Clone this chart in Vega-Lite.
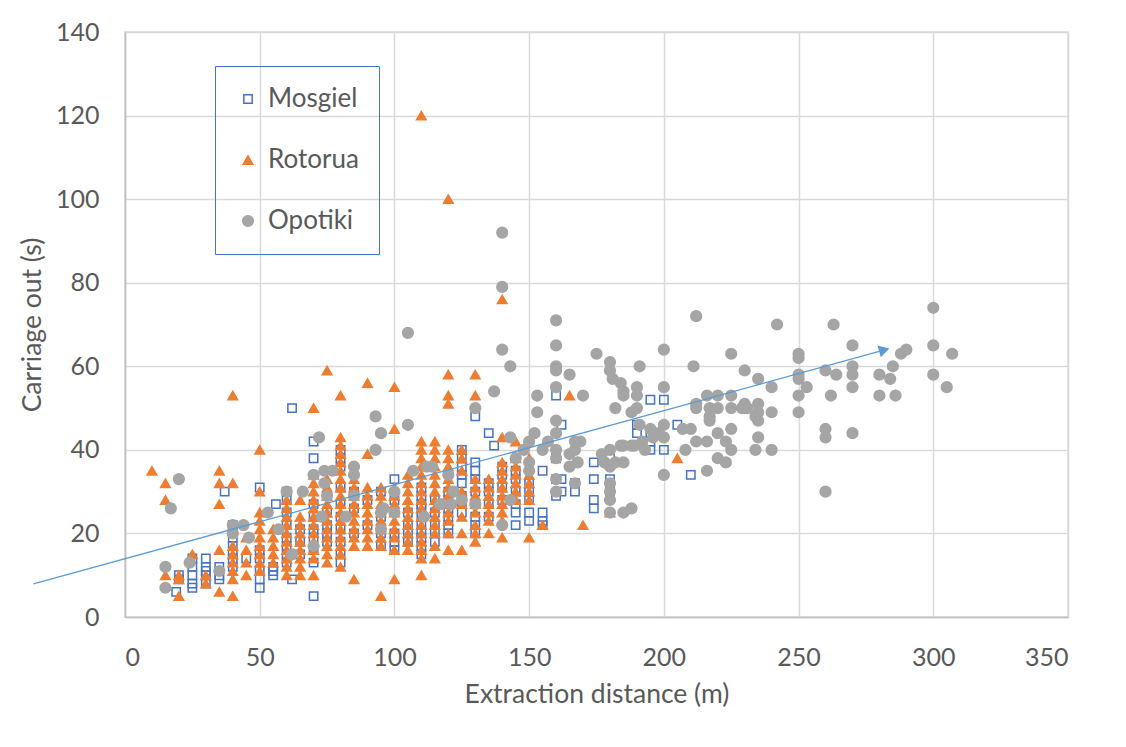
{
"$schema":"https://vega.github.io/schema/vega-lite/v6.json",
"width":943,"height":585,
"autosize":{"type":"none"},
"padding":{"left":125,"top":32,"right":58,"bottom":130},
"background":"white",
"config":{"font":"Lato","view":{"stroke":"#D9D9D9","strokeWidth":1.5},
"axis":{"labelFontSize":25,"labelColor":"#595959","titleFontSize":26.5,"titleColor":"#595959","titleFontWeight":"normal","gridColor":"#D9D9D9","gridWidth":1.5,"domainColor":"#BFBFBF","domainWidth":1.5,"ticks":false,"labelFont":"Lato","titleFont":"Lato"}},
"layer":[
{"data":{"values":[
{"site":"Mosgiel","dist":19,"time":6},{"site":"Mosgiel","dist":20,"time":10},{"site":"Mosgiel","dist":20,"time":9},
{"site":"Mosgiel","dist":25,"time":14},{"site":"Mosgiel","dist":25,"time":12},{"site":"Mosgiel","dist":25,"time":10},{"site":"Mosgiel","dist":25,"time":8},{"site":"Mosgiel","dist":25,"time":7},
{"site":"Mosgiel","dist":30,"time":14},{"site":"Mosgiel","dist":30,"time":12},{"site":"Mosgiel","dist":30,"time":11},{"site":"Mosgiel","dist":30,"time":10},{"site":"Mosgiel","dist":30,"time":8},
{"site":"Mosgiel","dist":35,"time":12},{"site":"Mosgiel","dist":35,"time":10},{"site":"Mosgiel","dist":35,"time":9},
{"site":"Mosgiel","dist":37,"time":30},
{"site":"Mosgiel","dist":40,"time":22},{"site":"Mosgiel","dist":40,"time":21},{"site":"Mosgiel","dist":40,"time":19},{"site":"Mosgiel","dist":40,"time":17},{"site":"Mosgiel","dist":40,"time":15},{"site":"Mosgiel","dist":40,"time":14},{"site":"Mosgiel","dist":40,"time":12},
{"site":"Mosgiel","dist":45,"time":14},
{"site":"Mosgiel","dist":50,"time":31},{"site":"Mosgiel","dist":50,"time":16},{"site":"Mosgiel","dist":50,"time":14},{"site":"Mosgiel","dist":50,"time":11},{"site":"Mosgiel","dist":50,"time":9},{"site":"Mosgiel","dist":50,"time":7},
{"site":"Mosgiel","dist":55,"time":12},{"site":"Mosgiel","dist":55,"time":11},{"site":"Mosgiel","dist":55,"time":10},
{"site":"Mosgiel","dist":56,"time":27},
{"site":"Mosgiel","dist":60,"time":30},{"site":"Mosgiel","dist":60,"time":28},{"site":"Mosgiel","dist":60,"time":25},{"site":"Mosgiel","dist":60,"time":22},{"site":"Mosgiel","dist":60,"time":19},{"site":"Mosgiel","dist":60,"time":17},{"site":"Mosgiel","dist":60,"time":15},{"site":"Mosgiel","dist":60,"time":13},
{"site":"Mosgiel","dist":62,"time":50},{"site":"Mosgiel","dist":62,"time":9},
{"site":"Mosgiel","dist":65,"time":21},{"site":"Mosgiel","dist":65,"time":18},{"site":"Mosgiel","dist":65,"time":15},
{"site":"Mosgiel","dist":70,"time":42},{"site":"Mosgiel","dist":70,"time":38},{"site":"Mosgiel","dist":70,"time":27},{"site":"Mosgiel","dist":70,"time":24},{"site":"Mosgiel","dist":70,"time":21},{"site":"Mosgiel","dist":70,"time":19},{"site":"Mosgiel","dist":70,"time":16},{"site":"Mosgiel","dist":70,"time":13},{"site":"Mosgiel","dist":70,"time":5},
{"site":"Mosgiel","dist":75,"time":29},{"site":"Mosgiel","dist":75,"time":25},{"site":"Mosgiel","dist":75,"time":22},{"site":"Mosgiel","dist":75,"time":20},{"site":"Mosgiel","dist":75,"time":18},
{"site":"Mosgiel","dist":80,"time":40},{"site":"Mosgiel","dist":80,"time":38},{"site":"Mosgiel","dist":80,"time":36},{"site":"Mosgiel","dist":80,"time":31},{"site":"Mosgiel","dist":80,"time":27},{"site":"Mosgiel","dist":80,"time":24},{"site":"Mosgiel","dist":80,"time":21},{"site":"Mosgiel","dist":80,"time":18},{"site":"Mosgiel","dist":80,"time":15},{"site":"Mosgiel","dist":80,"time":13},
{"site":"Mosgiel","dist":85,"time":30},{"site":"Mosgiel","dist":85,"time":26},{"site":"Mosgiel","dist":85,"time":20},
{"site":"Mosgiel","dist":90,"time":28},{"site":"Mosgiel","dist":90,"time":22},
{"site":"Mosgiel","dist":95,"time":30},{"site":"Mosgiel","dist":95,"time":24},{"site":"Mosgiel","dist":95,"time":20},{"site":"Mosgiel","dist":95,"time":17},
{"site":"Mosgiel","dist":100,"time":33},{"site":"Mosgiel","dist":100,"time":28},{"site":"Mosgiel","dist":100,"time":20},{"site":"Mosgiel","dist":100,"time":18},{"site":"Mosgiel","dist":100,"time":16},
{"site":"Mosgiel","dist":105,"time":25},{"site":"Mosgiel","dist":105,"time":22},{"site":"Mosgiel","dist":105,"time":20},{"site":"Mosgiel","dist":105,"time":18},
{"site":"Mosgiel","dist":110,"time":31},{"site":"Mosgiel","dist":110,"time":29},{"site":"Mosgiel","dist":110,"time":27},{"site":"Mosgiel","dist":110,"time":26},{"site":"Mosgiel","dist":110,"time":24},{"site":"Mosgiel","dist":110,"time":22},{"site":"Mosgiel","dist":110,"time":20},{"site":"Mosgiel","dist":110,"time":19},{"site":"Mosgiel","dist":110,"time":17},{"site":"Mosgiel","dist":110,"time":15},
{"site":"Mosgiel","dist":115,"time":28},{"site":"Mosgiel","dist":115,"time":25},{"site":"Mosgiel","dist":115,"time":22},{"site":"Mosgiel","dist":115,"time":20},{"site":"Mosgiel","dist":115,"time":18},
{"site":"Mosgiel","dist":120,"time":30},{"site":"Mosgiel","dist":120,"time":28},{"site":"Mosgiel","dist":120,"time":26},{"site":"Mosgiel","dist":120,"time":24},{"site":"Mosgiel","dist":120,"time":22},{"site":"Mosgiel","dist":120,"time":20},
{"site":"Mosgiel","dist":125,"time":40},{"site":"Mosgiel","dist":125,"time":38},{"site":"Mosgiel","dist":125,"time":36},{"site":"Mosgiel","dist":125,"time":34},{"site":"Mosgiel","dist":125,"time":32},{"site":"Mosgiel","dist":125,"time":29},{"site":"Mosgiel","dist":125,"time":27},{"site":"Mosgiel","dist":125,"time":25},
{"site":"Mosgiel","dist":130,"time":48},{"site":"Mosgiel","dist":130,"time":37},{"site":"Mosgiel","dist":130,"time":35},{"site":"Mosgiel","dist":130,"time":33},{"site":"Mosgiel","dist":130,"time":30},{"site":"Mosgiel","dist":130,"time":27},{"site":"Mosgiel","dist":130,"time":24},{"site":"Mosgiel","dist":130,"time":22},{"site":"Mosgiel","dist":130,"time":20},
{"site":"Mosgiel","dist":135,"time":44},{"site":"Mosgiel","dist":135,"time":32},{"site":"Mosgiel","dist":135,"time":30},{"site":"Mosgiel","dist":135,"time":27},{"site":"Mosgiel","dist":135,"time":24},
{"site":"Mosgiel","dist":137,"time":41},
{"site":"Mosgiel","dist":140,"time":36},{"site":"Mosgiel","dist":140,"time":34},{"site":"Mosgiel","dist":140,"time":31},{"site":"Mosgiel","dist":140,"time":28},
{"site":"Mosgiel","dist":145,"time":35},{"site":"Mosgiel","dist":145,"time":33},{"site":"Mosgiel","dist":145,"time":30},{"site":"Mosgiel","dist":145,"time":27},{"site":"Mosgiel","dist":145,"time":25},{"site":"Mosgiel","dist":145,"time":22},
{"site":"Mosgiel","dist":150,"time":32},{"site":"Mosgiel","dist":150,"time":30},{"site":"Mosgiel","dist":150,"time":28},{"site":"Mosgiel","dist":150,"time":25},{"site":"Mosgiel","dist":150,"time":23},
{"site":"Mosgiel","dist":155,"time":35},{"site":"Mosgiel","dist":155,"time":25},{"site":"Mosgiel","dist":155,"time":23},{"site":"Mosgiel","dist":155,"time":22},
{"site":"Mosgiel","dist":160,"time":53},{"site":"Mosgiel","dist":160,"time":38},{"site":"Mosgiel","dist":160,"time":33},{"site":"Mosgiel","dist":160,"time":29},
{"site":"Mosgiel","dist":162,"time":46},{"site":"Mosgiel","dist":162,"time":33},{"site":"Mosgiel","dist":162,"time":30},
{"site":"Mosgiel","dist":167,"time":32},{"site":"Mosgiel","dist":167,"time":30},
{"site":"Mosgiel","dist":174,"time":37},{"site":"Mosgiel","dist":174,"time":33},{"site":"Mosgiel","dist":174,"time":28},{"site":"Mosgiel","dist":174,"time":26},
{"site":"Mosgiel","dist":180,"time":38},{"site":"Mosgiel","dist":180,"time":33},{"site":"Mosgiel","dist":180,"time":30},
{"site":"Mosgiel","dist":190,"time":46},{"site":"Mosgiel","dist":190,"time":44},
{"site":"Mosgiel","dist":195,"time":52},{"site":"Mosgiel","dist":195,"time":44},{"site":"Mosgiel","dist":195,"time":42},{"site":"Mosgiel","dist":195,"time":40},
{"site":"Mosgiel","dist":200,"time":52},{"site":"Mosgiel","dist":200,"time":40},
{"site":"Mosgiel","dist":205,"time":46},{"site":"Mosgiel","dist":210,"time":34},
{"site":"Rotorua","dist":10,"time":35},
{"site":"Rotorua","dist":15,"time":32},{"site":"Rotorua","dist":15,"time":28},{"site":"Rotorua","dist":15,"time":10},
{"site":"Rotorua","dist":20,"time":10},{"site":"Rotorua","dist":20,"time":9},{"site":"Rotorua","dist":20,"time":5},
{"site":"Rotorua","dist":25,"time":15},
{"site":"Rotorua","dist":30,"time":10},{"site":"Rotorua","dist":30,"time":8},
{"site":"Rotorua","dist":35,"time":35},{"site":"Rotorua","dist":35,"time":32},{"site":"Rotorua","dist":35,"time":27},{"site":"Rotorua","dist":35,"time":16},{"site":"Rotorua","dist":35,"time":6},
{"site":"Rotorua","dist":40,"time":53},{"site":"Rotorua","dist":40,"time":32},{"site":"Rotorua","dist":40,"time":17},{"site":"Rotorua","dist":40,"time":15},{"site":"Rotorua","dist":40,"time":13},{"site":"Rotorua","dist":40,"time":11},{"site":"Rotorua","dist":40,"time":9},{"site":"Rotorua","dist":40,"time":5},
{"site":"Rotorua","dist":45,"time":19},{"site":"Rotorua","dist":45,"time":16},{"site":"Rotorua","dist":45,"time":13},{"site":"Rotorua","dist":45,"time":10},
{"site":"Rotorua","dist":50,"time":40},{"site":"Rotorua","dist":50,"time":30},{"site":"Rotorua","dist":50,"time":25},{"site":"Rotorua","dist":50,"time":23},{"site":"Rotorua","dist":50,"time":21},{"site":"Rotorua","dist":50,"time":19},{"site":"Rotorua","dist":50,"time":17},{"site":"Rotorua","dist":50,"time":15},{"site":"Rotorua","dist":50,"time":13},{"site":"Rotorua","dist":50,"time":11},
{"site":"Rotorua","dist":55,"time":21},{"site":"Rotorua","dist":55,"time":19},{"site":"Rotorua","dist":55,"time":17},{"site":"Rotorua","dist":55,"time":15},{"site":"Rotorua","dist":55,"time":13},
{"site":"Rotorua","dist":60,"time":28},{"site":"Rotorua","dist":60,"time":26},{"site":"Rotorua","dist":60,"time":24},{"site":"Rotorua","dist":60,"time":22},{"site":"Rotorua","dist":60,"time":20},{"site":"Rotorua","dist":60,"time":18},{"site":"Rotorua","dist":60,"time":16},{"site":"Rotorua","dist":60,"time":14},{"site":"Rotorua","dist":60,"time":12},{"site":"Rotorua","dist":60,"time":10},
{"site":"Rotorua","dist":65,"time":28},{"site":"Rotorua","dist":65,"time":24},{"site":"Rotorua","dist":65,"time":22},{"site":"Rotorua","dist":65,"time":20},{"site":"Rotorua","dist":65,"time":18},{"site":"Rotorua","dist":65,"time":16},{"site":"Rotorua","dist":65,"time":14},{"site":"Rotorua","dist":65,"time":12},{"site":"Rotorua","dist":65,"time":10},
{"site":"Rotorua","dist":70,"time":50},{"site":"Rotorua","dist":70,"time":34},{"site":"Rotorua","dist":70,"time":32},{"site":"Rotorua","dist":70,"time":30},{"site":"Rotorua","dist":70,"time":28},{"site":"Rotorua","dist":70,"time":26},{"site":"Rotorua","dist":70,"time":24},{"site":"Rotorua","dist":70,"time":22},{"site":"Rotorua","dist":70,"time":20},{"site":"Rotorua","dist":70,"time":18},{"site":"Rotorua","dist":70,"time":16},{"site":"Rotorua","dist":70,"time":14},{"site":"Rotorua","dist":70,"time":10},
{"site":"Rotorua","dist":75,"time":59},{"site":"Rotorua","dist":75,"time":33},{"site":"Rotorua","dist":75,"time":31},{"site":"Rotorua","dist":75,"time":29},{"site":"Rotorua","dist":75,"time":27},{"site":"Rotorua","dist":75,"time":25},{"site":"Rotorua","dist":75,"time":23},{"site":"Rotorua","dist":75,"time":21},{"site":"Rotorua","dist":75,"time":19},{"site":"Rotorua","dist":75,"time":17},{"site":"Rotorua","dist":75,"time":15},{"site":"Rotorua","dist":75,"time":13},
{"site":"Rotorua","dist":80,"time":53},{"site":"Rotorua","dist":80,"time":43},{"site":"Rotorua","dist":80,"time":41},{"site":"Rotorua","dist":80,"time":39},{"site":"Rotorua","dist":80,"time":37},{"site":"Rotorua","dist":80,"time":35},{"site":"Rotorua","dist":80,"time":33},{"site":"Rotorua","dist":80,"time":31},{"site":"Rotorua","dist":80,"time":29},{"site":"Rotorua","dist":80,"time":27},{"site":"Rotorua","dist":80,"time":25},{"site":"Rotorua","dist":80,"time":23},{"site":"Rotorua","dist":80,"time":21},{"site":"Rotorua","dist":80,"time":19},{"site":"Rotorua","dist":80,"time":17},{"site":"Rotorua","dist":80,"time":15},{"site":"Rotorua","dist":80,"time":12},
{"site":"Rotorua","dist":85,"time":33},{"site":"Rotorua","dist":85,"time":31},{"site":"Rotorua","dist":85,"time":29},{"site":"Rotorua","dist":85,"time":27},{"site":"Rotorua","dist":85,"time":25},{"site":"Rotorua","dist":85,"time":23},{"site":"Rotorua","dist":85,"time":21},{"site":"Rotorua","dist":85,"time":19},{"site":"Rotorua","dist":85,"time":17},{"site":"Rotorua","dist":85,"time":9},
{"site":"Rotorua","dist":90,"time":56},{"site":"Rotorua","dist":90,"time":39},{"site":"Rotorua","dist":90,"time":31},{"site":"Rotorua","dist":90,"time":29},{"site":"Rotorua","dist":90,"time":27},{"site":"Rotorua","dist":90,"time":25},{"site":"Rotorua","dist":90,"time":23},{"site":"Rotorua","dist":90,"time":21},{"site":"Rotorua","dist":90,"time":19},{"site":"Rotorua","dist":90,"time":17},
{"site":"Rotorua","dist":95,"time":31},{"site":"Rotorua","dist":95,"time":29},{"site":"Rotorua","dist":95,"time":27},{"site":"Rotorua","dist":95,"time":25},{"site":"Rotorua","dist":95,"time":23},{"site":"Rotorua","dist":95,"time":21},{"site":"Rotorua","dist":95,"time":19},{"site":"Rotorua","dist":95,"time":17},{"site":"Rotorua","dist":95,"time":5},
{"site":"Rotorua","dist":100,"time":55},{"site":"Rotorua","dist":100,"time":45},{"site":"Rotorua","dist":100,"time":31},{"site":"Rotorua","dist":100,"time":29},{"site":"Rotorua","dist":100,"time":27},{"site":"Rotorua","dist":100,"time":25},{"site":"Rotorua","dist":100,"time":23},{"site":"Rotorua","dist":100,"time":21},{"site":"Rotorua","dist":100,"time":19},{"site":"Rotorua","dist":100,"time":16},{"site":"Rotorua","dist":100,"time":9},
{"site":"Rotorua","dist":105,"time":34},{"site":"Rotorua","dist":105,"time":32},{"site":"Rotorua","dist":105,"time":30},{"site":"Rotorua","dist":105,"time":28},{"site":"Rotorua","dist":105,"time":26},{"site":"Rotorua","dist":105,"time":24},{"site":"Rotorua","dist":105,"time":22},{"site":"Rotorua","dist":105,"time":20},{"site":"Rotorua","dist":105,"time":18},{"site":"Rotorua","dist":105,"time":16},
{"site":"Rotorua","dist":110,"time":120},{"site":"Rotorua","dist":110,"time":42},{"site":"Rotorua","dist":110,"time":40},{"site":"Rotorua","dist":110,"time":38},{"site":"Rotorua","dist":110,"time":36},{"site":"Rotorua","dist":110,"time":34},{"site":"Rotorua","dist":110,"time":32},{"site":"Rotorua","dist":110,"time":30},{"site":"Rotorua","dist":110,"time":28},{"site":"Rotorua","dist":110,"time":26},{"site":"Rotorua","dist":110,"time":24},{"site":"Rotorua","dist":110,"time":22},{"site":"Rotorua","dist":110,"time":20},{"site":"Rotorua","dist":110,"time":18},{"site":"Rotorua","dist":110,"time":16},{"site":"Rotorua","dist":110,"time":14},{"site":"Rotorua","dist":110,"time":10},
{"site":"Rotorua","dist":115,"time":42},{"site":"Rotorua","dist":115,"time":40},{"site":"Rotorua","dist":115,"time":38},{"site":"Rotorua","dist":115,"time":36},{"site":"Rotorua","dist":115,"time":34},{"site":"Rotorua","dist":115,"time":32},{"site":"Rotorua","dist":115,"time":30},{"site":"Rotorua","dist":115,"time":28},{"site":"Rotorua","dist":115,"time":26},{"site":"Rotorua","dist":115,"time":24},{"site":"Rotorua","dist":115,"time":22},{"site":"Rotorua","dist":115,"time":20},{"site":"Rotorua","dist":115,"time":17},{"site":"Rotorua","dist":115,"time":14},
{"site":"Rotorua","dist":120,"time":100},{"site":"Rotorua","dist":120,"time":58},{"site":"Rotorua","dist":120,"time":53},{"site":"Rotorua","dist":120,"time":51},{"site":"Rotorua","dist":120,"time":40},{"site":"Rotorua","dist":120,"time":38},{"site":"Rotorua","dist":120,"time":36},{"site":"Rotorua","dist":120,"time":33},{"site":"Rotorua","dist":120,"time":31},{"site":"Rotorua","dist":120,"time":29},{"site":"Rotorua","dist":120,"time":27},{"site":"Rotorua","dist":120,"time":25},{"site":"Rotorua","dist":120,"time":23},{"site":"Rotorua","dist":120,"time":20},{"site":"Rotorua","dist":120,"time":16},
{"site":"Rotorua","dist":125,"time":40},{"site":"Rotorua","dist":125,"time":38},{"site":"Rotorua","dist":125,"time":35},{"site":"Rotorua","dist":125,"time":30},{"site":"Rotorua","dist":125,"time":27},{"site":"Rotorua","dist":125,"time":24},{"site":"Rotorua","dist":125,"time":20},{"site":"Rotorua","dist":125,"time":16},
{"site":"Rotorua","dist":130,"time":58},{"site":"Rotorua","dist":130,"time":53},{"site":"Rotorua","dist":130,"time":33},{"site":"Rotorua","dist":130,"time":31},{"site":"Rotorua","dist":130,"time":29},{"site":"Rotorua","dist":130,"time":27},{"site":"Rotorua","dist":130,"time":25},{"site":"Rotorua","dist":130,"time":22},{"site":"Rotorua","dist":130,"time":20},{"site":"Rotorua","dist":130,"time":18},
{"site":"Rotorua","dist":135,"time":33},{"site":"Rotorua","dist":135,"time":31},{"site":"Rotorua","dist":135,"time":29},{"site":"Rotorua","dist":135,"time":27},{"site":"Rotorua","dist":135,"time":25},{"site":"Rotorua","dist":135,"time":23},{"site":"Rotorua","dist":135,"time":20},
{"site":"Rotorua","dist":140,"time":76},{"site":"Rotorua","dist":140,"time":43},{"site":"Rotorua","dist":140,"time":37},{"site":"Rotorua","dist":140,"time":35},{"site":"Rotorua","dist":140,"time":33},{"site":"Rotorua","dist":140,"time":31},{"site":"Rotorua","dist":140,"time":29},{"site":"Rotorua","dist":140,"time":27},{"site":"Rotorua","dist":140,"time":25},{"site":"Rotorua","dist":140,"time":23},{"site":"Rotorua","dist":140,"time":19},
{"site":"Rotorua","dist":145,"time":42},{"site":"Rotorua","dist":145,"time":38},{"site":"Rotorua","dist":145,"time":36},{"site":"Rotorua","dist":145,"time":34},{"site":"Rotorua","dist":145,"time":32},{"site":"Rotorua","dist":145,"time":30},{"site":"Rotorua","dist":145,"time":28},
{"site":"Rotorua","dist":150,"time":38},{"site":"Rotorua","dist":150,"time":36},{"site":"Rotorua","dist":150,"time":34},{"site":"Rotorua","dist":150,"time":32},{"site":"Rotorua","dist":150,"time":30},{"site":"Rotorua","dist":150,"time":28},{"site":"Rotorua","dist":150,"time":19},
{"site":"Rotorua","dist":155,"time":22},{"site":"Rotorua","dist":165,"time":53},{"site":"Rotorua","dist":170,"time":22},{"site":"Rotorua","dist":180,"time":25},{"site":"Rotorua","dist":205,"time":38},
{"site":"Opotiki","dist":15,"time":12},{"site":"Opotiki","dist":15,"time":7},{"site":"Opotiki","dist":17,"time":26},{"site":"Opotiki","dist":20,"time":33},{"site":"Opotiki","dist":24,"time":13},{"site":"Opotiki","dist":35,"time":11},
{"site":"Opotiki","dist":40,"time":22},{"site":"Opotiki","dist":40,"time":20},{"site":"Opotiki","dist":44,"time":22},{"site":"Opotiki","dist":46,"time":19},{"site":"Opotiki","dist":53,"time":25},{"site":"Opotiki","dist":57,"time":21},
{"site":"Opotiki","dist":60,"time":30},{"site":"Opotiki","dist":62,"time":15},{"site":"Opotiki","dist":66,"time":30},{"site":"Opotiki","dist":70,"time":34},{"site":"Opotiki","dist":70,"time":17},{"site":"Opotiki","dist":72,"time":43},
{"site":"Opotiki","dist":73,"time":24},{"site":"Opotiki","dist":74,"time":35},{"site":"Opotiki","dist":74,"time":32},{"site":"Opotiki","dist":75,"time":29},{"site":"Opotiki","dist":77,"time":35},{"site":"Opotiki","dist":82,"time":24},
{"site":"Opotiki","dist":85,"time":36},{"site":"Opotiki","dist":85,"time":34},{"site":"Opotiki","dist":85,"time":29},{"site":"Opotiki","dist":93,"time":48},{"site":"Opotiki","dist":93,"time":40},{"site":"Opotiki","dist":95,"time":44},
{"site":"Opotiki","dist":95,"time":25},{"site":"Opotiki","dist":95,"time":21},{"site":"Opotiki","dist":96,"time":26},{"site":"Opotiki","dist":100,"time":30},{"site":"Opotiki","dist":100,"time":25},
{"site":"Opotiki","dist":105,"time":68},{"site":"Opotiki","dist":105,"time":46},{"site":"Opotiki","dist":107,"time":35},{"site":"Opotiki","dist":111,"time":24},{"site":"Opotiki","dist":112,"time":36},{"site":"Opotiki","dist":114,"time":36},
{"site":"Opotiki","dist":117,"time":27},{"site":"Opotiki","dist":120,"time":34},{"site":"Opotiki","dist":121,"time":27},{"site":"Opotiki","dist":122,"time":30},{"site":"Opotiki","dist":125,"time":28},{"site":"Opotiki","dist":130,"time":50},{"site":"Opotiki","dist":130,"time":27},
{"site":"Opotiki","dist":137,"time":54},{"site":"Opotiki","dist":140,"time":92},{"site":"Opotiki","dist":140,"time":79},{"site":"Opotiki","dist":140,"time":64},{"site":"Opotiki","dist":140,"time":22},{"site":"Opotiki","dist":143,"time":60},{"site":"Opotiki","dist":143,"time":43},{"site":"Opotiki","dist":143,"time":28},
{"site":"Opotiki","dist":145,"time":38},{"site":"Opotiki","dist":148,"time":40},{"site":"Opotiki","dist":150,"time":42},{"site":"Opotiki","dist":150,"time":37},{"site":"Opotiki","dist":150,"time":35},{"site":"Opotiki","dist":152,"time":44},{"site":"Opotiki","dist":153,"time":53},{"site":"Opotiki","dist":153,"time":49},
{"site":"Opotiki","dist":155,"time":40},{"site":"Opotiki","dist":157,"time":42},{"site":"Opotiki","dist":160,"time":71},{"site":"Opotiki","dist":160,"time":65},{"site":"Opotiki","dist":160,"time":60},{"site":"Opotiki","dist":160,"time":59},{"site":"Opotiki","dist":160,"time":55},{"site":"Opotiki","dist":160,"time":47},
{"site":"Opotiki","dist":160,"time":44},{"site":"Opotiki","dist":160,"time":40},{"site":"Opotiki","dist":160,"time":38},{"site":"Opotiki","dist":160,"time":33},{"site":"Opotiki","dist":160,"time":30},{"site":"Opotiki","dist":165,"time":58},{"site":"Opotiki","dist":165,"time":39},{"site":"Opotiki","dist":165,"time":36},
{"site":"Opotiki","dist":167,"time":42},{"site":"Opotiki","dist":169,"time":42},{"site":"Opotiki","dist":167,"time":40},{"site":"Opotiki","dist":168,"time":37},{"site":"Opotiki","dist":167,"time":32},{"site":"Opotiki","dist":170,"time":53},{"site":"Opotiki","dist":175,"time":63},
{"site":"Opotiki","dist":177,"time":39},{"site":"Opotiki","dist":178,"time":37},{"site":"Opotiki","dist":180,"time":61},{"site":"Opotiki","dist":180,"time":59},{"site":"Opotiki","dist":181,"time":57},{"site":"Opotiki","dist":180,"time":40},{"site":"Opotiki","dist":180,"time":36},
{"site":"Opotiki","dist":180,"time":32},{"site":"Opotiki","dist":180,"time":30},{"site":"Opotiki","dist":180,"time":28},{"site":"Opotiki","dist":180,"time":25},{"site":"Opotiki","dist":182,"time":50},{"site":"Opotiki","dist":182,"time":37},{"site":"Opotiki","dist":184,"time":56},{"site":"Opotiki","dist":185,"time":54},
{"site":"Opotiki","dist":185,"time":53},{"site":"Opotiki","dist":184,"time":41},{"site":"Opotiki","dist":185,"time":41},{"site":"Opotiki","dist":185,"time":37},{"site":"Opotiki","dist":185,"time":25},{"site":"Opotiki","dist":188,"time":49},{"site":"Opotiki","dist":188,"time":41},{"site":"Opotiki","dist":188,"time":26},
{"site":"Opotiki","dist":189,"time":41},{"site":"Opotiki","dist":190,"time":55},{"site":"Opotiki","dist":190,"time":53},{"site":"Opotiki","dist":190,"time":50},{"site":"Opotiki","dist":191,"time":60},{"site":"Opotiki","dist":191,"time":46},{"site":"Opotiki","dist":192,"time":42},{"site":"Opotiki","dist":193,"time":40},
{"site":"Opotiki","dist":195,"time":45},{"site":"Opotiki","dist":196,"time":43},{"site":"Opotiki","dist":198,"time":44},{"site":"Opotiki","dist":200,"time":64},{"site":"Opotiki","dist":200,"time":55},{"site":"Opotiki","dist":200,"time":46},{"site":"Opotiki","dist":200,"time":43},{"site":"Opotiki","dist":200,"time":34},
{"site":"Opotiki","dist":207,"time":45},{"site":"Opotiki","dist":208,"time":40},{"site":"Opotiki","dist":210,"time":45},{"site":"Opotiki","dist":212,"time":72},{"site":"Opotiki","dist":211,"time":60},{"site":"Opotiki","dist":212,"time":51},{"site":"Opotiki","dist":212,"time":50},{"site":"Opotiki","dist":212,"time":42},
{"site":"Opotiki","dist":216,"time":53},{"site":"Opotiki","dist":217,"time":50},{"site":"Opotiki","dist":217,"time":48},{"site":"Opotiki","dist":217,"time":47},{"site":"Opotiki","dist":216,"time":42},{"site":"Opotiki","dist":216,"time":35},{"site":"Opotiki","dist":220,"time":53},{"site":"Opotiki","dist":220,"time":50},
{"site":"Opotiki","dist":220,"time":44},{"site":"Opotiki","dist":220,"time":38},{"site":"Opotiki","dist":223,"time":42},{"site":"Opotiki","dist":223,"time":37},{"site":"Opotiki","dist":225,"time":63},{"site":"Opotiki","dist":225,"time":53},{"site":"Opotiki","dist":225,"time":50},{"site":"Opotiki","dist":225,"time":45},
{"site":"Opotiki","dist":225,"time":40},{"site":"Opotiki","dist":229,"time":50},{"site":"Opotiki","dist":230,"time":59},{"site":"Opotiki","dist":230,"time":51},{"site":"Opotiki","dist":230,"time":50},{"site":"Opotiki","dist":231,"time":50},{"site":"Opotiki","dist":234,"time":48},{"site":"Opotiki","dist":234,"time":40},
{"site":"Opotiki","dist":235,"time":57},{"site":"Opotiki","dist":235,"time":51},{"site":"Opotiki","dist":235,"time":49},{"site":"Opotiki","dist":235,"time":47},{"site":"Opotiki","dist":235,"time":43},{"site":"Opotiki","dist":240,"time":55},{"site":"Opotiki","dist":240,"time":49},{"site":"Opotiki","dist":240,"time":40},
{"site":"Opotiki","dist":242,"time":70},{"site":"Opotiki","dist":250,"time":63},{"site":"Opotiki","dist":250,"time":62},{"site":"Opotiki","dist":250,"time":58},{"site":"Opotiki","dist":250,"time":57},{"site":"Opotiki","dist":250,"time":53},{"site":"Opotiki","dist":250,"time":49},{"site":"Opotiki","dist":253,"time":55},
{"site":"Opotiki","dist":260,"time":59},{"site":"Opotiki","dist":260,"time":45},{"site":"Opotiki","dist":260,"time":43},{"site":"Opotiki","dist":260,"time":30},{"site":"Opotiki","dist":262,"time":53},{"site":"Opotiki","dist":263,"time":70},{"site":"Opotiki","dist":264,"time":58},
{"site":"Opotiki","dist":270,"time":65},{"site":"Opotiki","dist":270,"time":60},{"site":"Opotiki","dist":270,"time":58},{"site":"Opotiki","dist":270,"time":55},{"site":"Opotiki","dist":270,"time":44},{"site":"Opotiki","dist":280,"time":58},{"site":"Opotiki","dist":280,"time":53},
{"site":"Opotiki","dist":284,"time":57},{"site":"Opotiki","dist":285,"time":60},{"site":"Opotiki","dist":286,"time":53},{"site":"Opotiki","dist":288,"time":63},{"site":"Opotiki","dist":290,"time":64},{"site":"Opotiki","dist":300,"time":74},{"site":"Opotiki","dist":300,"time":65},
{"site":"Opotiki","dist":300,"time":58},{"site":"Opotiki","dist":305,"time":55},{"site":"Opotiki","dist":307,"time":63}
]},
"mark":{"type":"point","strokeWidth":1.5,"opacity":1},
"encoding":{
"x":{"field":"dist","type":"quantitative","scale":{"domain":[0,350],"nice":false,"zero":false},"axis":{"title":"Extraction distance (m)","values":[0,50,100,150,200,250,300,350],"labelPadding":28,"titlePadding":11}},
"y":{"field":"time","type":"quantitative","scale":{"domain":[0,140],"nice":false},"axis":{"title":"Carriage out (s)","values":[0,20,40,60,80,100,120,140],"labelPadding":26,"titlePadding":9}},
"fill":{"field":"site","type":"nominal","scale":{"domain":["Mosgiel","Rotorua","Opotiki"],"range":["transparent","#ED7D31","#A5A5A5"]},"legend":{"title":null,"orient":"none","legendX":90,"legendY":34,"padding":20,"rowPadding":35,"labelFontSize":26,"labelColor":"#595959","labelFont":"Lato","symbolSize":75,"symbolStrokeWidth":1.5,"labelOffset":7,"strokeColor":"#4472C4","encode":{"legend":{"update":{"strokeWidth":{"value":2}}}}}},
"stroke":{"field":"site","type":"nominal","scale":{"domain":["Mosgiel","Rotorua","Opotiki"],"range":["#4472C4","#ED7D31","#A5A5A5"]},"legend":{"title":null,"orient":"none","legendX":90,"legendY":34,"padding":20,"rowPadding":35,"labelFontSize":26,"labelColor":"#595959","labelFont":"Lato","symbolSize":75,"symbolStrokeWidth":1.5,"labelOffset":7,"strokeColor":"#4472C4","encode":{"legend":{"update":{"strokeWidth":{"value":2}}}}}},
"shape":{"field":"site","type":"nominal","scale":{"domain":["Mosgiel","Rotorua","Opotiki"],"range":["square","triangle-up","circle"]},"legend":{"title":null,"orient":"none","legendX":90,"legendY":34,"padding":20,"rowPadding":35,"labelFontSize":26,"labelColor":"#595959","labelFont":"Lato","symbolSize":75,"symbolStrokeWidth":1.5,"labelOffset":7,"strokeColor":"#4472C4","encode":{"legend":{"update":{"strokeWidth":{"value":2}}}}}},
"size":{"field":"site","type":"nominal","scale":{"domain":["Mosgiel","Rotorua","Opotiki"],"range":[70,115,110]},"legend":{"title":null,"orient":"none","legendX":90,"legendY":34,"padding":20,"rowPadding":35,"labelFontSize":26,"labelColor":"#595959","labelFont":"Lato","symbolSize":75,"symbolStrokeWidth":1.5,"labelOffset":7,"strokeColor":"#4472C4","encode":{"legend":{"update":{"strokeWidth":{"value":2}}}}}}
}},
{"data":{"values":[{"dist":-34,"time":7.9},{"dist":283,"time":64.1}]},
"mark":{"type":"line","color":"#5B9BD5","strokeWidth":1.3,"clip":false},
"encoding":{"x":{"field":"dist","type":"quantitative"},"y":{"field":"time","type":"quantitative"}}},
{"data":{"values":[{"dist":281.8,"time":63.9}]},
"mark":{"type":"point","shape":"triangle-right","angle":-15.4,"size":150,"filled":true,"color":"#5B9BD5","opacity":1,"strokeWidth":0},
"encoding":{"x":{"field":"dist","type":"quantitative"},"y":{"field":"time","type":"quantitative"}}}
]
}
